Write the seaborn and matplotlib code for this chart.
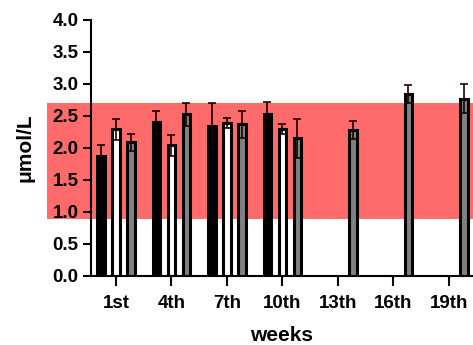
import numpy as np
import pandas as pd
import matplotlib
matplotlib.use("Agg")
import matplotlib.pyplot as plt
import seaborn as sns

# values (µmol/L, mean and SD)
weeks_a = [1, 4, 7, 10]
group_a = [1.88, 2.40, 2.35, 2.53]
err_a = [0.17, 0.18, 0.35, 0.19]

weeks_b = [1, 4, 7, 10]
group_b = [2.29, 2.04, 2.39, 2.30]
err_b = [0.16, 0.16, 0.08, 0.08]

weeks_c = [1, 4, 7, 10, 13, 16, 19]
group_c = [2.09, 2.53, 2.37, 2.15, 2.28, 2.84, 2.77]
err_c = [0.13, 0.18, 0.21, 0.31, 0.14, 0.14, 0.23]

tick_weeks = [1, 4, 7, 10, 13, 16, 19]
tick_labels = ["1st", "4th", "7th", "10th", "13th", "16th", "19th"]

ref_low, ref_high = 0.89, 2.70

frames = []
for name, wk, val, err in [("A", weeks_a, group_a, err_a),
                           ("B", weeks_b, group_b, err_b),
                           ("C", weeks_c, group_c, err_c)]:
    frames.append(pd.DataFrame({"week": wk, "value": val, "err": err, "group": name}))
df = pd.concat(frames, ignore_index=True)

sns.set_style("ticks", {"axes.edgecolor": "black", "text.color": "black",
                        "axes.labelcolor": "black", "xtick.color": "black",
                        "ytick.color": "black"})
plt.rcParams["font.family"] = ["Liberation Sans", "DejaVu Sans"]
plt.rcParams["font.weight"] = "bold"

fig = plt.figure(figsize=(4.73, 3.45), dpi=100)
ax = fig.add_axes([91 / 473, 69 / 345, 1 - 91 / 473, 256 / 345])

# reference range band, runs out behind the tick labels
ax.axhspan(ref_low, ref_high, xmin=-0.116, xmax=1.0, color="#ff6b6b",
           lw=0, zorder=0, clip_on=False)

palette = {"A": "black", "B": "white", "C": "#808080"}
sns.barplot(data=df, x="week", y="value", hue="group", hue_order=["A", "B", "C"],
            palette=palette, native_scale=True, width=0.81, gap=0.5,
            edgecolor="black", linewidth=2.2, errorbar=None, legend=False,
            ax=ax, zorder=2)

# error bars on the bar centres seaborn produced
for cont, name in zip(ax.containers, ["A", "B", "C"]):
    sub = df[df["group"] == name].sort_values("week")
    xs = [b.get_x() + b.get_width() / 2 for b in cont]
    ax.errorbar(xs, sub["value"], yerr=sub["err"], fmt="none", ecolor="#1a0000",
                elinewidth=1.2, capsize=2.8, capthick=1.2, zorder=3)

ax.set_xlim(-0.35, 20.3)
ax.set_ylim(0, 4.0)
ax.set_yticks(np.arange(0, 4.01, 0.5))
ax.set_yticklabels([f"{v:.1f}" for v in np.arange(0, 4.01, 0.5)])
ax.set_xticks(tick_weeks)
ax.set_xticklabels(tick_labels)

ax.tick_params(axis="both", width=1.5, labelsize=13.5, colors="black")
ax.tick_params(axis="x", length=7, pad=7)
ax.tick_params(axis="y", length=5.5, pad=3.5)
for lab in ax.get_xticklabels() + ax.get_yticklabels():
    lab.set_fontweight("bold")

ax.set_xlabel("weeks", fontsize=15, fontweight="bold", labelpad=10, color="black")
ax.set_ylabel("μmol/L", fontsize=15, fontweight="bold", labelpad=13, color="black")

sns.despine(ax=ax)
for side in ["left", "bottom"]:
    ax.spines[side].set_linewidth(1.5)
    ax.spines[side].set_color("black")
ax.set_facecolor("none")

fig.savefig("out.png", dpi=100)
